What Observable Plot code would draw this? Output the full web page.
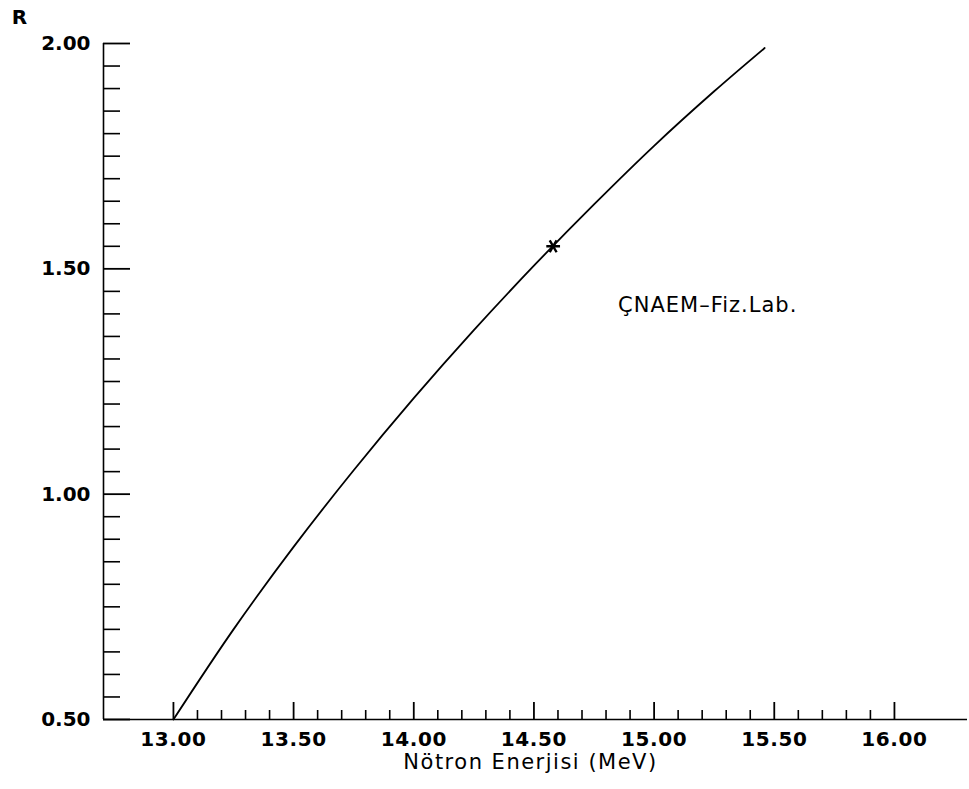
<!DOCTYPE html>
<html>
<head>
<meta charset="utf-8">
<script src="https://cdn.jsdelivr.net/npm/d3@7"></script>
<script src="https://cdn.jsdelivr.net/npm/@observablehq/plot@0.6"></script>
<style>
  html, body { margin: 0; padding: 0; background: #fff; }
  #chart svg { display: block; }
</style>
</head>
<body>
<div id="chart"></div>
<script>
// Curve: neutron energy (MeV) vs R
const energy = [13.00, 13.25, 13.50, 13.75, 14.00, 14.25, 14.50, 14.75, 15.00, 15.25, 15.46];
const ratio  = [0.500, 0.700, 0.883, 1.053, 1.213, 1.364, 1.507, 1.643, 1.773, 1.894, 1.990];

// Marked point (asterisk) on the curve
const markerEnergy = [14.58];
const markerRatio  = [1.55];

// Annotation
const noteText   = ["ÇNAEM–Fiz.Lab."];
const noteEnergy = [14.85];
const noteRatio  = [1.42];

// Axis titles
const xTitle = "Nötron Enerjisi (MeV)";
const yTitle = "R";

// Axis tick values
const xTickLabels = [13.00, 13.50, 14.00, 14.50, 15.00, 15.50, 16.00];
const xMinorTicks = [13.1, 13.2, 13.3, 13.4, 13.6, 13.7, 13.8, 13.9, 14.1, 14.2, 14.3, 14.4,
                     14.6, 14.7, 14.8, 14.9, 15.1, 15.2, 15.3, 15.4, 15.6, 15.7, 15.8, 15.9];
const yTickLabels = [0.50, 1.00, 1.50, 2.00];
const yMinorTicks = [0.55, 0.60, 0.65, 0.70, 0.75, 0.80, 0.85, 0.90, 0.95,
                     1.05, 1.10, 1.15, 1.20, 1.25, 1.30, 1.35, 1.40, 1.45,
                     1.55, 1.60, 1.65, 1.70, 1.75, 1.80, 1.85, 1.90, 1.95];

const xDomain = [12.709, 16.304];
const yDomain = [0.5, 2.0];

const W = 969, H = 789;
const mt = 43, mr = 2, mb = 70, ml = 103;
const plotW = W - ml - mr, plotH = H - mt - mb;

const curve = energy.map((e, i) => ({e, r: ratio[i]}));
const marker = markerEnergy.map((e, i) => ({e, r: markerRatio[i]}));
const note = noteText.map((t, i) => ({t, e: noteEnergy[i], r: noteRatio[i]}));

const font = "'DejaVu Sans', sans-serif";

const chart = Plot.plot({
  width: W,
  height: H,
  marginTop: mt, marginRight: mr, marginBottom: mb, marginLeft: ml,
  style: { fontFamily: font, fontSize: "20px", color: "#000", background: "#fff" },
  x: { domain: xDomain, axis: null },
  y: { domain: yDomain, axis: null },
  marks: [
    // axis lines
    Plot.ruleY([yDomain[0]], { stroke: "#000", strokeWidth: 1.6 }),
    Plot.ruleX([xDomain[0]], { stroke: "#000", strokeWidth: 1.6 }),
    // x ticks (inward, from the bottom axis)
    Plot.tickX(xTickLabels, { x: d => d, stroke: "#000", strokeWidth: 1.8, insetTop: plotH - 17 }),
    Plot.tickX(xMinorTicks, { x: d => d, stroke: "#000", strokeWidth: 1.6, insetTop: plotH - 9 }),
    // y ticks (inward, from the left axis)
    Plot.tickY(yTickLabels, { y: d => d, stroke: "#000", strokeWidth: 1.8, insetRight: plotW - 27 }),
    Plot.tickY(yMinorTicks, { y: d => d, stroke: "#000", strokeWidth: 1.6, insetRight: plotW - 17 }),
    // tick labels
    Plot.axisX(xTickLabels, { anchor: "bottom", tickSize: 0, tickPadding: 12,
      tickFormat: d3.format(".2f"), fontWeight: "bold", fontSize: 20, label: null }),
    Plot.axisY(yTickLabels, { anchor: "left", tickSize: 0, tickPadding: 13,
      tickFormat: d3.format(".2f"), fontWeight: "bold", fontSize: 20, label: null }),
    // axis titles
    Plot.text([xTitle], { frameAnchor: "bottom", textAnchor: "middle",
      lineAnchor: "middle", dx: -5, dy: 43, fontSize: 21, fill: "#000" }),
    Plot.text([yTitle], { frameAnchor: "top-left", textAnchor: "middle", lineAnchor: "middle",
      dx: -84, dy: -26, fontSize: 20, fontWeight: "bold", fill: "#000" }),
    // curve
    Plot.line(curve, { x: "e", y: "r", curve: "catmull-rom", stroke: "#000", strokeWidth: 1.8 }),
    // marker
    Plot.dot(marker, { x: "e", y: "r", symbol: "asterisk", r: 6.5, rotate: 90,
      stroke: "#000", strokeWidth: 2.4 }),
    // annotation
    Plot.text(note, { x: "e", y: "r", text: "t", textAnchor: "start", fontSize: 21, fill: "#000" })
  ]
});

// widen the lettering a little, like the plotter font of the original
const svg = d3.select(chart);
svg.selectAll("text").each(function () {
  const t = this.textContent;
  if (t === xTitle) d3.select(this).attr("letter-spacing", "1.5px");
  else if (noteText.includes(t)) d3.select(this).attr("letter-spacing", "1px");
});
svg.selectAll('g[aria-label="x-axis tick label"] text').attr("letter-spacing", "0.6px");

document.getElementById("chart").appendChild(chart);
</script>
</body>
</html>
